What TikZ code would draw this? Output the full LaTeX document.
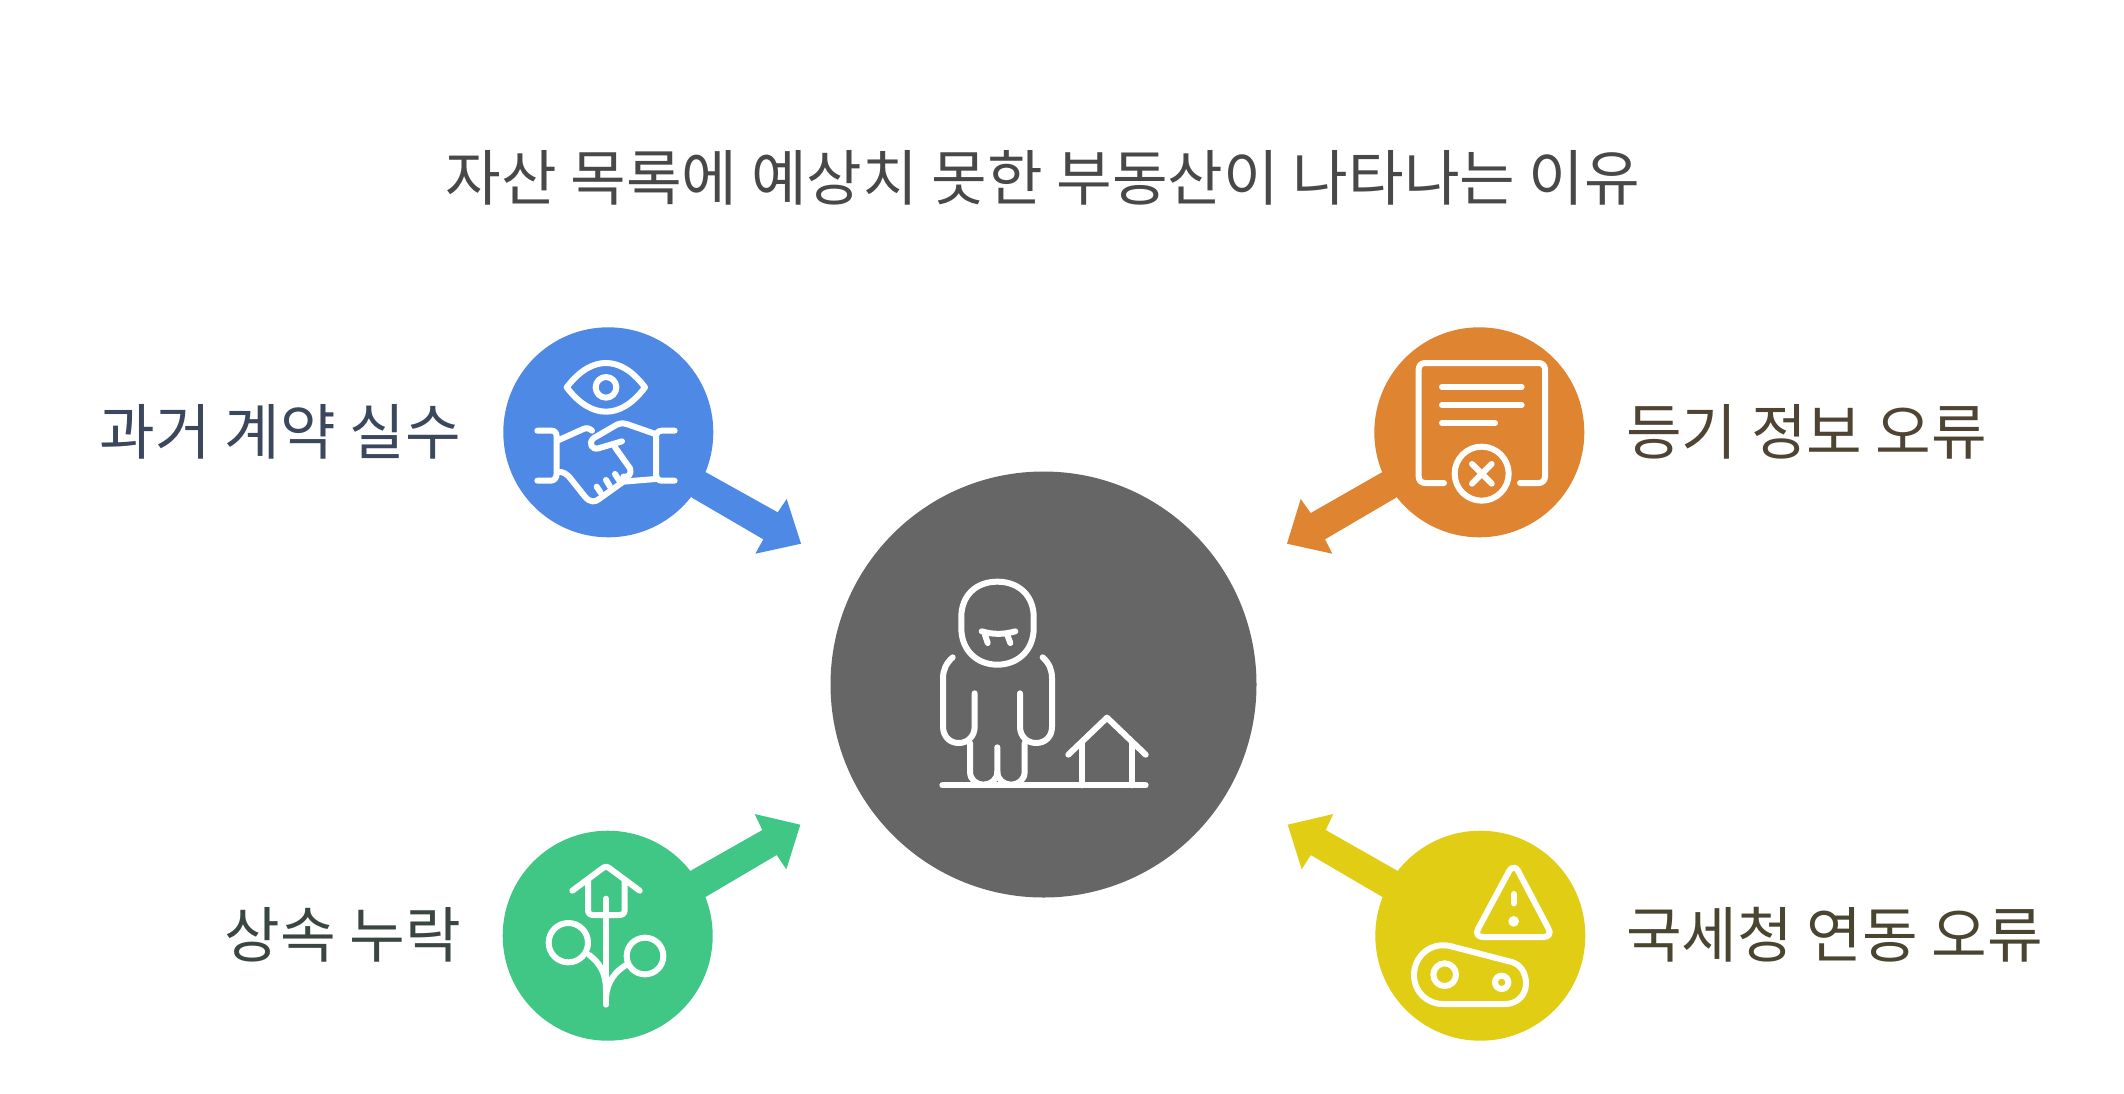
\documentclass[tikz,border=0pt]{standalone}
\usepackage{fontspec}
\setmainfont{Noto Sans CJK KR}
\definecolor{cblue}{HTML}{4F89E6}
\definecolor{corange}{HTML}{DF8431}
\definecolor{cgreen}{HTML}{40C786}
\definecolor{cyellow}{HTML}{E0CD14}
\definecolor{cgray}{HTML}{666666}
\definecolor{ttitle}{HTML}{484848}
\definecolor{tblue}{HTML}{3B475C}
\definecolor{tbrown}{HTML}{4F4433}
\definecolor{tgreen}{HTML}{3A4740}
\definecolor{tolive}{HTML}{4A4530}
\tikzset{
  ic/.style={draw=white,line width=6pt,line cap=round,line join=round},
  titletext/.style={font=\fontsize{60.5}{66}\selectfont,text=ttitle,inner sep=0pt},
  lbl/.style={font=\fontsize{60.5}{66}\selectfont,inner sep=0pt},
  zoomed/.style={x=0.33333pt,y=-0.33333pt},
}
\begin{document}
\begin{tikzpicture}[x=1pt,y=-1pt]
\useasboundingbox (0,0) rectangle (2124,1093);
\fill[white] (0,0) rectangle (2124,1093);
% central circle
\fill[cgray] (1043.5,684.5) circle[radius=213];
% blue
\fill[cblue] (608.3,432.3) circle[radius=105];
\fill[cblue] (706.7,472.7)--(777.7,512.3)--(786.7,499)--(801,543.7)--(755.3,553.7)--(763.3,539.3)--(692,497.7)--(650,450)--cycle;
% orange
\fill[corange] (1479.3,432.3) circle[radius=105];
\fill[corange] (1381.3,472.7)--(1310.7,513)--(1300.7,499)--(1287,543.7)--(1332.3,553.7)--(1325,539.3)--(1396,497.7)--(1440,450)--cycle;
% green
\fill[cgreen] (607.7,935.7) circle[radius=105];
\fill[cgreen] (690.7,870.7)--(762.3,830)--(754.7,814)--(800.3,824.7)--(786.3,869.3)--(776.7,855)--(706,896.7)--(650,920)--cycle;
% yellow
\fill[cyellow] (1480.3,935.7) circle[radius=105];
\fill[cyellow] (1397.3,870.7)--(1325.7,830)--(1333.3,814)--(1287.7,824.7)--(1301.7,869.3)--(1310.7,855)--(1382,896.7)--(1440,920)--cycle;
% center icon
\begin{scope}[shift={(900,550)},zoomed]
\draw[ic] (292,95) .. controls (225,95) and (184,140) .. (184,200) -- (184,235) .. controls (184,300) and (230,344) .. (292,344) .. controls (354,344) and (401,300) .. (401,235) -- (401,200) .. controls (401,140) and (359,95) .. (292,95) -- cycle;
\draw[ic] (245,244) .. controls (280,254) and (310,254) .. (346,244);
\draw[ic] (255,255)--(263,279);
\draw[ic] (322,255)--(331,279);
\draw[ic] (158,322) .. controls (138,340) and (129,360) .. (129,385) -- (129,530) .. controls (129,560) and (150,579) .. (176,579) .. controls (202,579) and (224,560) .. (224,530) -- (224,430);
\draw[ic] (428,322) .. controls (448,340) and (456,360) .. (456,385) -- (456,530) .. controls (456,560) and (436,579) .. (408,579) .. controls (382,579) and (360,560) .. (360,530) -- (360,430);
\draw[ic] (210,579) -- (210,665) .. controls (210,690) and (230,704) .. (250,704) .. controls (272,704) and (292,690) .. (292,665) -- (292,592);
\draw[ic] (374,579) -- (374,665) .. controls (374,690) and (354,704) .. (334,704) .. controls (312,704) and (292,690) .. (292,665);
\draw[ic] (127,706) -- (737,706);
\draw[ic] (505,614) -- (621,503) -- (737,614);
\draw[ic] (547,580) -- (547,706);
\draw[ic] (695,580) -- (695,706);
\end{scope}
% blue icon
\begin{scope}[shift={(480,310)},zoomed]
\draw[ic] (260,232) .. controls (300,180) and (340,159) .. (378,159) .. controls (416,159) and (456,180) .. (495,232) .. controls (456,284) and (416,305) .. (378,305) .. controls (340,305) and (300,284) .. (260,232) -- cycle;
\draw[ic] (378,232) circle[radius=31];
\draw[ic] (172,362) -- (215,362) .. controls (225,362) and (230,370) .. (230,380) -- (230,490) .. controls (230,505) and (222,512) .. (212,512) -- (172,512);
\draw[ic] (584,362) -- (545,362) .. controls (535,362) and (528,370) .. (528,380) -- (528,490) .. controls (528,505) and (535,512) .. (545,512) -- (584,512);
\draw[ic] (232,392) -- (310,357) .. controls (320,352) and (328,355) .. (336,362);
\draw[ic] (426,394) -- (355,415) .. controls (335,420) and (325,400) .. (340,385) -- (400,350) .. controls (415,340) and (425,338) .. (440,342) -- (526,372);
\draw[ic] (405,412) -- (450,475) .. controls (455,495) and (445,502) .. (430,500);
\draw[ic] (232,486) .. controls (250,484) and (262,492) .. (275,510) -- (315,560) .. controls (330,578) and (345,578) .. (360,565) -- (430,515) -- (526,507);
\draw[ic] (350,530) -- (362,548);
\draw[ic] (378,510) -- (390,530);
\draw[ic] (405,492) -- (418,512);
\end{scope}
% orange icon
\begin{scope}[shift={(1280,310)},zoomed]
\draw[ic] (492,519) -- (435,519) .. controls (424,519) and (416,511) .. (416,500) -- (416,178) .. controls (416,167) and (424,159) .. (435,159) -- (776,159) .. controls (787,159) and (795,167) .. (795,178) -- (795,500) .. controls (795,511) and (787,519) .. (776,519) -- (720,519);
\draw[ic] (486,231) -- (725,231);
\draw[ic] (486,285) -- (725,285);
\draw[ic] (486,339) -- (645,339);
\draw[ic] (605,491) circle[radius=81];
\draw[ic] (576,462) -- (635,521);
\draw[ic] (635,462) -- (576,521);
\end{scope}
% green icon
\begin{scope}[shift={(480,800)},zoomed]
\draw[ic] (277,272) -- (370,203) .. controls (375,199) and (381,199) .. (386,203) -- (479,272);
\draw[ic] (324,240) -- (324,330) .. controls (324,340) and (330,345) .. (340,345) -- (418,345) .. controls (428,345) and (434,340) .. (434,330) -- (434,240);
\draw[ic] (378,296) -- (378,614);
\draw[ic] (265,428) circle[radius=59];
\draw[ic] (495,468) circle[radius=55];
\draw[ic] (328,465) .. controls (360,490) and (378,520) .. (378,570);
\draw[ic] (438,495) .. controls (405,515) and (382,545) .. (378,590);
\end{scope}
% yellow icon
\begin{scope}[shift={(1280,800)},zoomed]
\draw[ic] (688,212) .. controls (695,200) and (708,200) .. (714,212) -- (805,385) .. controls (815,402) and (805,411) .. (790,411) -- (610,411) .. controls (595,411) and (585,402) .. (595,385) -- cycle;
\draw[ic] (701,282) -- (701,310);
\fill[white] (701,364) circle[radius=16];
\draw[ic] (510,438) -- (695,486) .. controls (722,493) and (738,520) .. (738,550) .. controls (738,585) and (712,612) .. (675,612) -- (490,612) .. controls (440,612) and (402,575) .. (402,525) .. controls (402,470) and (450,425) .. (510,438) -- cycle;
\draw[ic] (494,524) circle[radius=34];
\draw[ic] (665,547) circle[radius=20];
\end{scope}
% texts
\node[titletext] (title) at (1043,178) {자산 목록에 예상치 못한 부동산이 나타나는 이유};
\node[lbl,text=tblue,anchor=east] (l1) at (461,432) {과거 계약 실수};
\node[lbl,text=tbrown,anchor=west] (l2) at (1626,432) {등기 정보 오류};
\node[lbl,text=tgreen,anchor=east] (l3) at (461,935) {상속 누락};
\node[lbl,text=tolive,anchor=west] (l4) at (1626,935) {국세청 연동 오류};
\end{tikzpicture}
\end{document}
